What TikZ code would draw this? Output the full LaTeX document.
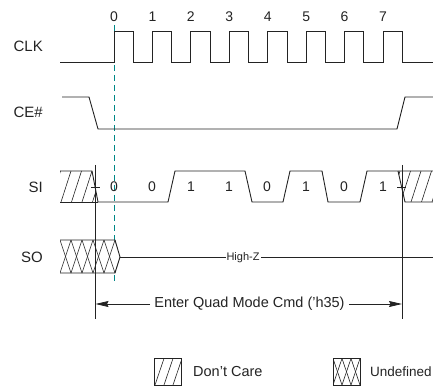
\documentclass[tikz,border=0pt]{standalone}
\usepackage{fontspec}
\setmainfont{Liberation Sans}
\usetikzlibrary{arrows.meta}
\definecolor{teal1}{RGB}{0,135,135}
\definecolor{ink}{RGB}{35,35,35}
\begin{document}
\begin{tikzpicture}[x=1pt,y=-1pt,
  wave/.style={draw=ink,line width=0.9pt,line join=miter},
  hatchln/.style={draw=ink,line width=0.6pt},
  siglabel/.style={anchor=east,inner sep=0pt,font=\fontsize{15}{15}\selectfont,text=ink},
  numlabel/.style={inner sep=0pt,font=\fontsize{14}{14}\selectfont,text=ink},
  bitlabel/.style={inner sep=0pt,font=\fontsize{14}{14}\selectfont,text=ink},
  txt/.style={inner sep=0pt,font=\fontsize{14.5}{14.5}\selectfont,text=ink},
  arr/.style={draw=ink,line width=0.8pt,-{Stealth[length=13pt,width=6pt,inset=1.5pt]}}]
\useasboundingbox (0,0) rectangle (433,387);

% teal dashed line (drawn first, covered by SO box)
\coordinate (dt) at (114,25);
\coordinate (db) at (114,281);
\draw[teal1,line width=0.8pt,dash pattern=on 6pt off 4pt] (dt) -- (db);

% signal labels
\node[siglabel] (lclk) at (43,46) {CLK};
\node[siglabel] (lce) at (43,112) {CE\#};
\node[siglabel] (lsi) at (43,187) {SI};
\node[siglabel] (lso) at (43,257) {SO};

% clock numbers
\foreach \i in {0,...,7} {
  \node[numlabel] (n\i) at ({114+38.43*\i},17) {\i};
}

% CLK waveform
\draw[wave] (60,62) -- (114,62)
  \foreach \i in {0,...,7} { -- ({114+38.43*\i},62) -- ({114+38.43*\i},31) -- ({133.3+38.43*\i},31) -- ({133.3+38.43*\i},62) }
  -- (433,62);

% CE# waveform
\draw[wave] (62,97) -- (89,97) -- (98,129) -- (397,129) -- (405,97) -- (433,97);

% SI don't care (left)
\begin{scope}
  \clip (60,171) -- (92,171) -- (98,202) -- (60,202) -- cycle;
  \foreach \x in {40,50.5,...,110} { \draw[hatchln] (\x,202) -- (\x+10,171); }
\end{scope}
\draw[wave] (60,171) -- (92,171) -- (98,202);
\draw[wave] (60,202) -- (98,202);

% SI data
\draw[wave] (98,202) -- (168,202) -- (175,171) -- (245,171) -- (252,202) -- (283,202)
  -- (290,171) -- (322,171) -- (328,202) -- (360,202) -- (367,171) -- (433,171);

% SI don't care (right)
\begin{scope}
  \clip (398,171) -- (433,171) -- (433,202) -- (405,202) -- cycle;
  \foreach \x in {390,400.5,...,440} { \draw[hatchln] (\x,202) -- (\x+10,171); }
\end{scope}
\draw[wave] (398,171) -- (405,202) -- (433,202);

% bit labels
\foreach \x/\b [count=\k] in {114/0,152/0,191/1,229/1,267/0,306/1,344/0,383/1} {
  \node[bitlabel] (b\k) at (\x,187) {\b};
}

% SO undefined
\fill[white] (60,240) -- (115,240) -- (120,257) -- (115,273) -- (60,273) -- cycle;
\begin{scope}
  \clip (60,240) -- (115,240) -- (120,257) -- (115,273) -- (60,273) -- cycle;
  \foreach \x in {49,60,...,125} {
    \draw[hatchln] (\x,240) -- (\x+11,273);
    \draw[hatchln] (\x+11,240) -- (\x,273);
  }
\end{scope}
\draw[wave] (60,240) -- (115,240) -- (120,257) -- (115,273) -- (60,273);
\draw[wave] (120,257) -- (433,257);
\node[txt,fill=white,inner xsep=1pt,font=\fontsize{11}{11}\selectfont] (hiz) at (243,257.5) {High-Z};

% vertical markers and ticks
\coordinate (vlt) at (95.5,165);
\coordinate (vlb) at (95.5,319);
\coordinate (vrt) at (402,165);
\coordinate (vrb) at (402,319);
\draw[draw=ink,line width=0.8pt] (vlt) -- (vlb);
\draw[draw=ink,line width=0.8pt] (vrt) -- (vrb);
\draw[draw=ink,line width=0.8pt] (91,187) -- (100,187);
\draw[draw=ink,line width=0.8pt] (397,187) -- (406,187);

% command span
\node[txt] (cmd) at (249.5,304) {Enter Quad Mode Cmd ('h35)};
\coordinate (al) at (95.5,304);
\coordinate (ar) at (402,304);
\draw[arr] ([xshift=-4pt]cmd.west) -- (al);
\draw[arr] ([xshift=4pt]cmd.east) -- (ar);

% legend
\draw[draw=ink,line width=0.8pt] (154.5,358.5) rectangle (181.5,385);
\begin{scope}
  \clip (154.5,358.5) rectangle (181.5,385);
  \foreach \x in {146,155,...,185} { \draw[hatchln] (\x,385) -- (\x+9,358.5); }
\end{scope}
\node[txt,anchor=west] (ldc) at (193,372) {Don't Care};

\draw[draw=ink,line width=0.8pt] (333,358.5) rectangle (360,385);
\begin{scope}
  \clip (333,358.5) rectangle (360,385);
  \foreach \x in {324,333,...,360} {
    \draw[hatchln] (\x,358.5) -- (\x+9,385);
    \draw[hatchln] (\x+9,358.5) -- (\x,385);
  }
\end{scope}
\node[txt,anchor=west,font=\fontsize{13.5}{13.5}\selectfont] (lud) at (370,372) {Undefined};
\end{tikzpicture}
\end{document}
